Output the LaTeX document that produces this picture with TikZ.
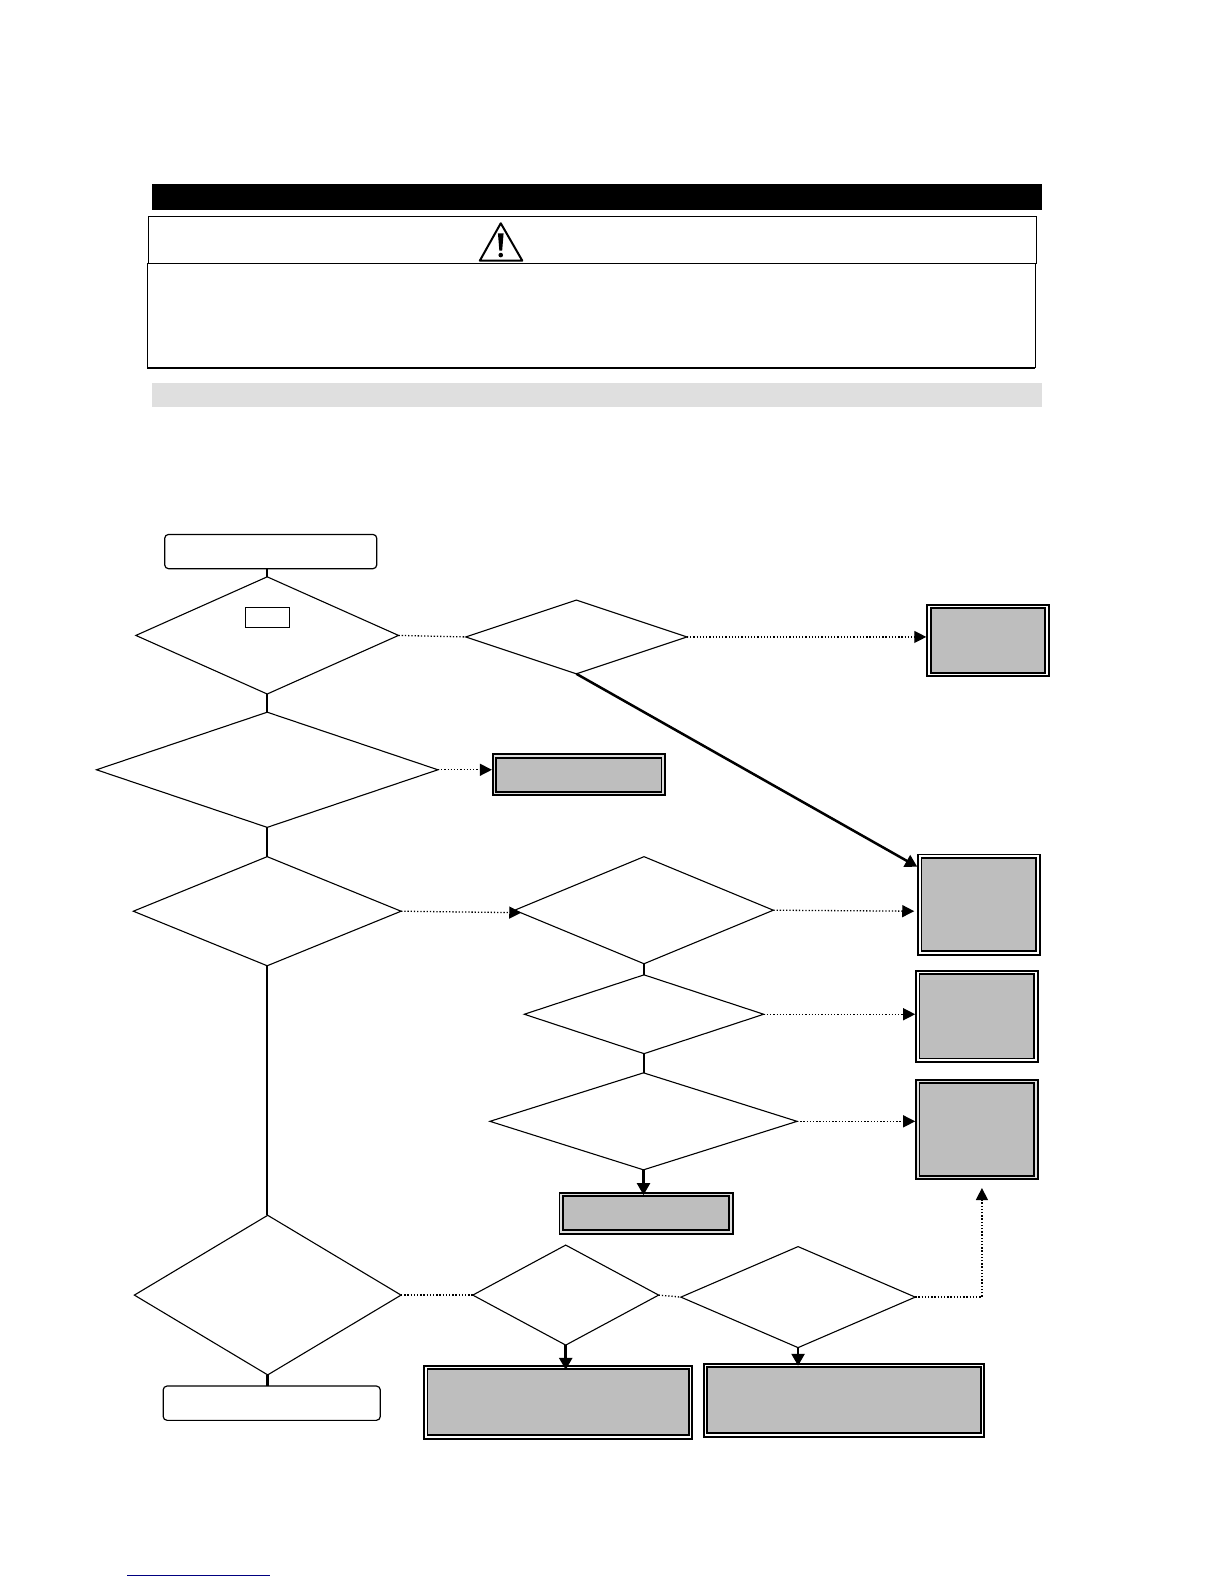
\documentclass[tikz,border=0pt]{standalone}
\usetikzlibrary{shapes.geometric,arrows.meta}
\definecolor{boxgray}{HTML}{BEBEBE}
\definecolor{bargray}{HTML}{DFDFDF}
\definecolor{linkblue}{HTML}{000080}
\def\uu{1.0099pt}
\tikzset{
  dmd/.style={diamond,draw=black,line width=1.1pt,inner sep=0pt,outer sep=0pt,fill=white},
  endbox/.style={rectangle,draw=black,line width=1.2pt,rounded corners=4pt,inner sep=0pt,outer sep=0pt,fill=white},
  plainbox/.style={rectangle,draw=black,line width=1pt,inner sep=0pt,outer sep=0pt,fill=white},
  resbox/.style={rectangle,draw=black,line width=1.9pt,double=#1,double distance=1.5pt,fill=boxgray,inner sep=0pt,outer sep=2.6pt},
  resbox/.default=white,
  flow/.style={draw=black,line width=2.5pt},
  flowarrow/.style={flow,-{Triangle[length=12pt,width=13pt]}},
  dotline/.style={draw=black,line width=1.3pt,dash pattern=on 1.3pt off 1.9pt},
  dotarrow/.style={dotline,-{Triangle[length=12pt,width=12pt]}},
}
% name, left, right, top, bottom (in the 1212 wide grid)
\newcommand\resultbox[6][white]{\node[resbox=#1,
    minimum width={(#4-#3-5)*\uu},minimum height={(#6-#5-5)*\uu}]
    (#2) at ({(#3+#4)/2},{(#5+#6)/2}) {};}
\newcommand\decision[5]{\node[dmd,minimum width={#4*\uu},minimum height={#5*\uu}] (#1) at (#2,#3) {};}
\begin{document}
\begin{tikzpicture}[x=1.0099pt,y=-1.0099pt]
\useasboundingbox (0,0) rectangle (1212,1568);
% header bars
\fill[black] (150,182) rectangle (1031,208);
\draw[black,line width=1pt] (147,261) -- (147,214) -- (1026,214) -- (1026,261);
\draw[black,line width=1pt] (146,261) rectangle (1025,364);
\draw[black,line width=2pt] (146,364) -- (1025,364);
\fill[bargray] (150,379) rectangle (1031,403);
% warning sign
\draw[black,line width=2pt,line join=round] (495.7,221) -- (517,258) -- (475,258) -- cycle;
\fill[black] (492.9,231) -- (498.5,231) -- (497.1,248) -- (494.3,248) -- cycle;
\fill[black] (495.7,252.5) circle (2.3pt);
% terminators
\node[endbox,minimum width={210*\uu},minimum height={34*\uu}] (start) at (268,546) {};
\node[endbox,minimum width={215*\uu},minimum height={34*\uu}] (finish) at (269,1389) {};
% decisions
\decision{d1}{264.5}{629}{260}{116}
\decision{d2}{570.5}{630.5}{219}{73}
\decision{d3}{264.5}{762}{338}{114}
\decision{d4}{264.5}{902}{265}{108}
\decision{d5}{637.5}{901}{256}{106}
\decision{d6}{637.5}{1004}{237}{78}
\decision{d7}{637}{1110}{304}{96}
\decision{d8}{265}{1282}{264}{158}
\decision{d9}{560}{1282}{184}{99}
\decision{d10}{790}{1284}{232}{100}
\node[plainbox,minimum width={44*\uu},minimum height={20*\uu}] (tag) at (265,611) {};
% results
\resultbox[bargray]{ra}{487}{659}{746}{788}
\resultbox{rb}{917}{1039}{598}{670}
\resultbox{rc}{908}{1030}{845}{946}
\resultbox{rd}{906}{1028}{960}{1052}
\resultbox[bargray]{re}{906}{1028}{1068}{1168}
\resultbox[bargray]{rf}{553}{726}{1180}{1222}
\resultbox{rg}{419}{686}{1351}{1425}
\resultbox{rh}{696}{975}{1349}{1423}
% free ends
\coordinate (tipc) at (908,858);
\coordinate (tipd5) at (516,903.5);
\coordinate (tipc2) at (905,902);
\coordinate (tipe) at (972,1176);
\coordinate (tipf) at (637,1183);
\coordinate (tipg) at (560,1356);
\coordinate (tiph) at (790,1352);
% solid connectors
\path[flow] (d1.north |- start.south) -- (d1.north);
\path[flow] (d1.south) -- (d3.north);
\path[flow] (d3.south) -- (d4.north);
\path[flow] (d4.south) -- (d4.south |- d8.north);
\path[flow] (d8.south) -- (d8.south |- finish.north);
\path[flow] (d5.south) -- (d6.north);
\path[flow] (d6.south) -- (d6.south |- d7.north);
\path[flowarrow] (d2.south) -- (tipc);
\path[flowarrow] (d7.south) -- (tipf);
\path[flowarrow] (d9.south) -- (tipg);
\path[flowarrow] (d10.south) -- (tiph);
% dotted connectors
\path[dotline] (d1.east) -- (d2.west);
\path[dotarrow] (d2.east) -- (rb.west |- d2.east);
\path[dotarrow] (d3.east) -- (ra.west |- d3.east);
\path[dotarrow] (d4.east) -- (tipd5);
\path[dotarrow] (d5.east) -- (tipc2);
\path[dotarrow] (d6.east) -- (rd.west |- d6.east);
\path[dotarrow] (d7.east) -- (re.west |- d7.east);
\path[dotline] (d8.east) -- (d9.west);
\path[dotline] (d9.east) -- (d10.west);
\path[dotarrow] (d10.east) -- (tipe |- d10.east) -- (tipe);
% footer rule
\draw[linkblue,line width=1pt] (126,1559.5) -- (267,1559.5);
\end{tikzpicture}
\end{document}
